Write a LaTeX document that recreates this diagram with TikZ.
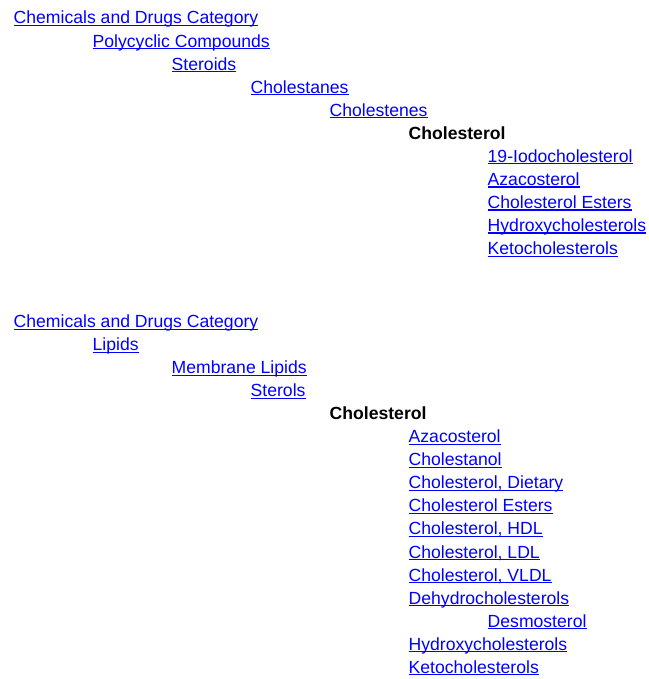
\documentclass[tikz,border=0pt]{standalone}
\usepackage{fontspec}
\setmainfont{Liberation Sans}
\definecolor{linkblue}{RGB}{0,0,255}
\begin{document}
\begin{tikzpicture}[x=1pt, y=-1pt, font=\fontsize{17.6}{21}\selectfont,
  link/.style={anchor=base west, inner sep=0pt, text=linkblue},
  here/.style={anchor=base west, inner sep=0pt, font=\fontsize{17.6}{21}\selectfont\bfseries},
  uline/.style={draw=linkblue, line width=1.2pt}]
  \useasboundingbox (0,0) rectangle (648,679);
  \def\dx{79}\def\dy{23.05}
  % first path: Polycyclic Compounds
  \foreach \n/\l/\t in {1/0/Chemicals and Drugs Category, 2/1/Polycyclic Compounds, 3/2/Steroids,
      4/3/Cholestanes, 5/4/Cholestenes, 7/6/19-Iodocholesterol, 8/6/Azacosterol,
      9/6/Cholesterol Esters, 10/6/Hydroxycholesterols, 11/6/Ketocholesterols}{
    \node[link] (a\n) at ({13.5+\l*\dx},{24+(\n-1)*\dy}) {\t};
    \draw[uline] ([yshift=-1.6pt]a\n.base west) -- ([yshift=-1.6pt]a\n.base east);
  }
  \node[here] (a6) at ({13.5+5*\dx},{24+5*\dy}) {Cholesterol};
  % second path: Lipids
  \foreach \n/\l/\t in {1/0/Chemicals and Drugs Category, 2/1/Lipids, 3/2/Membrane Lipids,
      4/3/Sterols, 6/5/Azacosterol, 7/5/Cholestanol, 8/5/{Cholesterol, Dietary},
      9/5/Cholesterol Esters, 10/5/{Cholesterol, HDL}, 11/5/{Cholesterol, LDL},
      12/5/{Cholesterol, VLDL}, 13/5/Dehydrocholesterols, 14/6/Desmosterol,
      15/5/Hydroxycholesterols, 16/5/Ketocholesterols}{
    \node[link] (b\n) at ({13.5+\l*\dx},{327.5+(\n-1)*\dy}) {\t};
    \draw[uline] ([yshift=-1.6pt]b\n.base west) -- ([yshift=-1.6pt]b\n.base east);
  }
  \node[here] (b5) at ({13.5+4*\dx},{327.5+4*\dy}) {Cholesterol};
\end{tikzpicture}
\end{document}
